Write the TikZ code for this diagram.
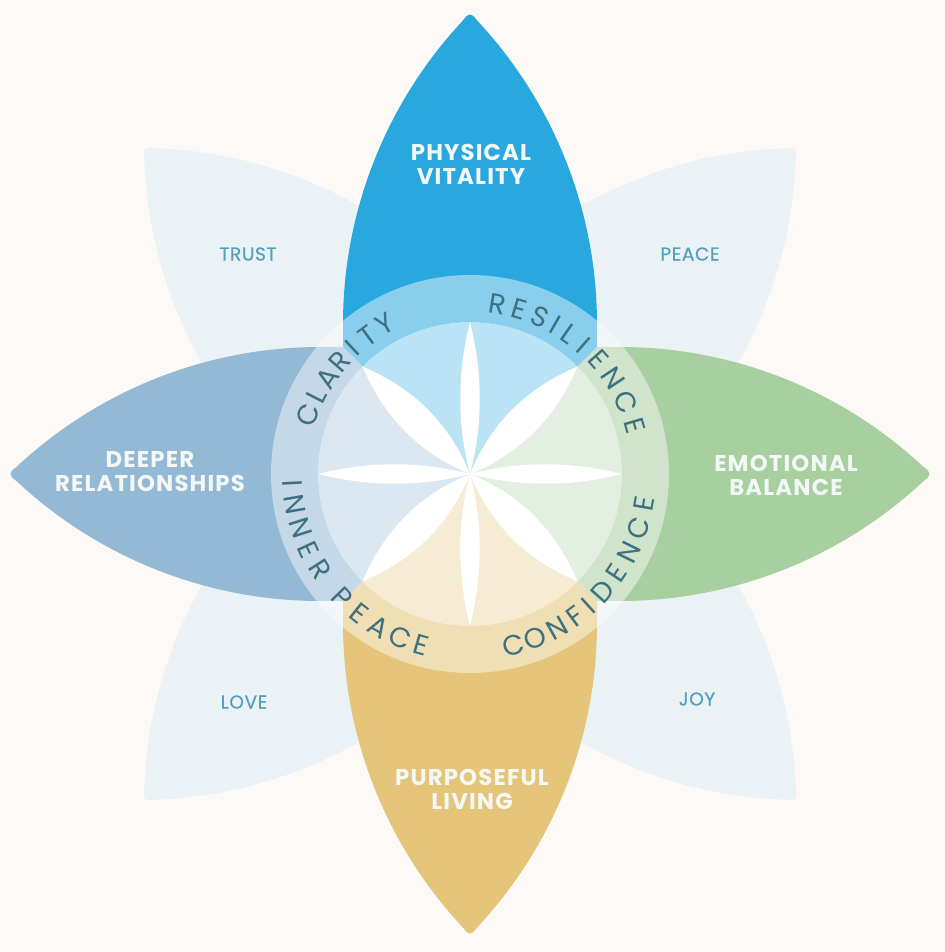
\documentclass[tikz,border=0pt]{standalone}
\usepackage{fontspec}
\setmainfont{Poppins}
\newfontfamily\labelfont{Poppins}[LetterSpace=5]
\newfontfamily\smallfont{Poppins}[LetterSpace=3,FakeBold=0.5]
\definecolor{bgc}{RGB}{252,249,246}
\definecolor{palec}{RGB}{234,242,246}
\definecolor{blueP}{RGB}{41,168,224}
\definecolor{greenP}{RGB}{168,207,160}
\definecolor{goldP}{RGB}{229,197,121}
\definecolor{steelP}{RGB}{148,185,212}
\definecolor{ringc}{RGB}{62,112,128}
\definecolor{smallc}{RGB}{80,160,190}
\definecolor{labelc}{RGB}{243,248,246}
\tikzset{
  petalpath/.style={insert path={(0,0) -- (-127,127) -- (-127,150)
     arc[start angle=180, end angle=136.85, radius=444]
     .. controls (-1.5,461.5) and (1.5,461.5) .. (6.9,453.7)
     arc[start angle=43.15, end angle=0, radius=444] -- (127,127) -- cycle}},
  lensA/.style={insert path={(0,0) .. controls (13,50) and (13,100) .. (0,152)
     .. controls (-13,100) and (-13,50) .. (0,0) -- cycle}},
  lensB/.style={insert path={(0,0) .. controls (21,50) and (21,100) .. (0,152)
     .. controls (-21,100) and (-21,50) .. (0,0) -- cycle}},
  big/.style={text=labelc, align=center, inner sep=0pt,
     font=\labelfont\fontsize{13}{13.6}\selectfont\bfseries},
  small/.style={text=smallc, inner sep=0pt, font=\smallfont\fontsize{10.6}{12}\selectfont},
  ringl/.style={text=ringc, inner sep=0pt, anchor=center,
     font=\fontsize{16}{17}\selectfont}
}
\begin{document}
\begin{tikzpicture}[x=0.02cm,y=0.02cm]
\fill[bgc] (-470,-478) rectangle (475,474);
\useasboundingbox (-470,-478) rectangle (475,474);
% pale background petals
\foreach \a in {45,135,225,315} {\fill[palec, rotate=\a, petalpath];}
% coloured petals
\fill[blueP, rotate=0, petalpath];
\fill[steelP, rotate=90, petalpath];
\fill[goldP, rotate=180, petalpath];
\fill[greenP, rotate=270, petalpath];
% ring and inner disk
\fill[white, opacity=0.45, even odd rule] (0,0) circle[radius=199] (0,0) circle[radius=152];
\fill[white, opacity=0.68] (0,0) circle[radius=152];
% white star
\foreach \a in {0,90,180,270} {\fill[white, rotate=\a, lensA];}
\foreach \a in {45,135,225,315} {\fill[white, rotate=\a, lensB];}
% main labels
\node[big] (pv) at (1,310) {PHYSICAL\\VITALITY};
\node[big] (dr) at (-320,2.5) {DEEPER\\RELATIONSHIPS};
\node[big] (eb) at (316,-1.5) {EMOTIONAL\\BALANCE};
\node[big] (pl) at (2,-315) {PURPOSEFUL\\LIVING};
% small labels
\node[small] (tr) at (-222,220) {TRUST};
\node[small] (pe) at (220,220) {PEACE};
\node[small] (lo) at (-226,-228) {LOVE};
\node[small] (jo) at (227,-225) {JOY};
% ring words
\foreach \ch/\ang [count=\i] in {R/80.7,E/73.3,S/66.1,I/60.2,L/54.7,I/48.5,E/41.6,N/33.7,C/24.7,E/16.2}
  {\node[ringl, rotate=\ang-90] (res\i) at (\ang:172) {\ch};}
\foreach \ch/\ang [count=\i] in {C/160,L/153,A/146,R/139,I/133,T/126.5,Y/119.5}
  {\node[ringl, rotate=\ang-90] (cla\i) at (\ang:172) {\ch};}
\foreach \ch/\ang [count=\i] in {C/-75.7,O/-68.3,N/-60.6,F/-53.4,I/-48,D/-41.6,E/-34,N/-26.2,C/-17.8,E/-9.8}
  {\node[ringl, rotate=\ang+90] (con\i) at (\ang:177) {\ch};}
\foreach \ch/\ang [count=\i] in {I/183,N/189.8,N/197.6,E/205.1,R/212.6,P/224,E/231.6,A/239.2,C/246.9,E/254}
  {\node[ringl, rotate=\ang+90] (inp\i) at (\ang:178) {\ch};}
\end{tikzpicture}
\end{document}
